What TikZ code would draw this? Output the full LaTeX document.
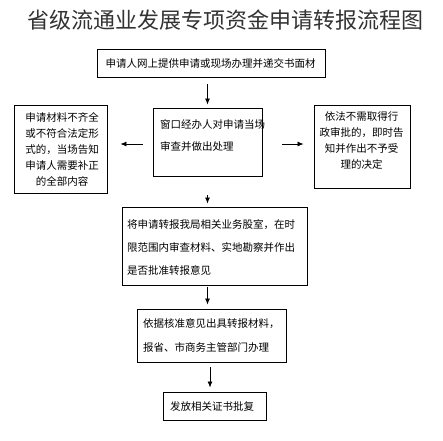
\documentclass[tikz,border=0pt]{standalone}
\usepackage{fontspec}
\newfontfamily\cjk{Noto Sans CJK SC}
\usetikzlibrary{arrows.meta}
\begin{document}
\begin{tikzpicture}[x=1pt,y=-1pt,
  box/.style={draw=black,line width=0.9pt,inner sep=0pt},
  txt/.style={inner sep=0pt,font=\cjk\fontsize{10.5}{16}\selectfont},
  arr/.style={draw=black,line width=0.8pt,-{Latex[length=6pt,width=5pt]}}]
\useasboundingbox[fill=white] (0,0) rectangle (443,440);
\node[inner sep=0pt,text=black!80,font=\cjk\fontsize{22}{24}\selectfont] (title) at (225,20) {省级流通业发展专项资金申请转报流程图};
% boxes
\node[box,minimum width=228pt,minimum height=28pt] (top) at (211,63) {};
\node[box,minimum width=109pt,minimum height=68pt] (check) at (207.5,142) {};
\node[box,minimum width=93pt,minimum height=88pt] (reject) at (60.5,149) {};
\node[box,minimum width=96pt,minimum height=83pt] (refuse) at (362,146.5) {};
\node[box,minimum width=185pt,minimum height=78pt] (review) at (214.5,246) {};
\node[box,minimum width=149pt,minimum height=53pt] (report) at (211.5,335.5) {};
\node[box,minimum width=103pt,minimum height=28pt] (issue) at (214.5,406) {};
% texts
\node[txt] (ttop) at (210.5,63) {申请人网上提供申请或现场办理并递交书面材};
\node[txt,align=left,anchor=west,font=\cjk\fontsize{10.5}{22}\selectfont] (tcheck) at (160,136) {窗口经办人对申请当场\\审查并做出处理};
\node[txt,align=center] (treject) at (62,149) {申请材料不齐全\\或不符合法定形\\式的，当场告知\\申请人需要补正\\的全部内容};
\node[txt,align=center] (trefuse) at (361.5,141) {依法不需取得行\\政审批的，即时告\\知并作出不予受\\理的决定};
\node[txt,align=left,anchor=west,font=\cjk\fontsize{10.5}{23}\selectfont] (treview) at (127,247) {将申请转报我局相关业务股室，在时\\限范围内审查材料、实地勘察并作出\\是否批准转报意见};
\node[txt,align=left,anchor=west,font=\cjk\fontsize{10.5}{24}\selectfont] (treport) at (143,335) {依据核准意见出具转报材料，\\报省、市商务主管部门办理};
\node[txt,anchor=west] (tissue) at (170,406) {发放相关证书批复};
% arrows
\draw[arr,shorten <=7pt,shorten >=3pt] (top.south -| check.north) -- (check.north);
\draw[arr,shorten <=10pt,shorten >=13pt] ([yshift=-2pt]check.west) -- ([yshift=-2pt]check.west -| reject.east);
\draw[arr,shorten <=20pt,shorten >=10pt] ([yshift=-2pt]check.east) -- ([yshift=-2pt]check.east -| refuse.west);
\draw[arr,shorten <=19pt,shorten >=3pt] (check.south) -- (check.south |- review.north);
\draw[arr,shorten <=2pt,shorten >=4pt] (review.south -| check.south) -- (report.north -| check.south);
\draw[arr,shorten <=5pt,shorten >=4pt] ([xshift=-1.5pt]report.south) -- ([xshift=-1.5pt]report.south |- issue.north);
\end{tikzpicture}
\end{document}
